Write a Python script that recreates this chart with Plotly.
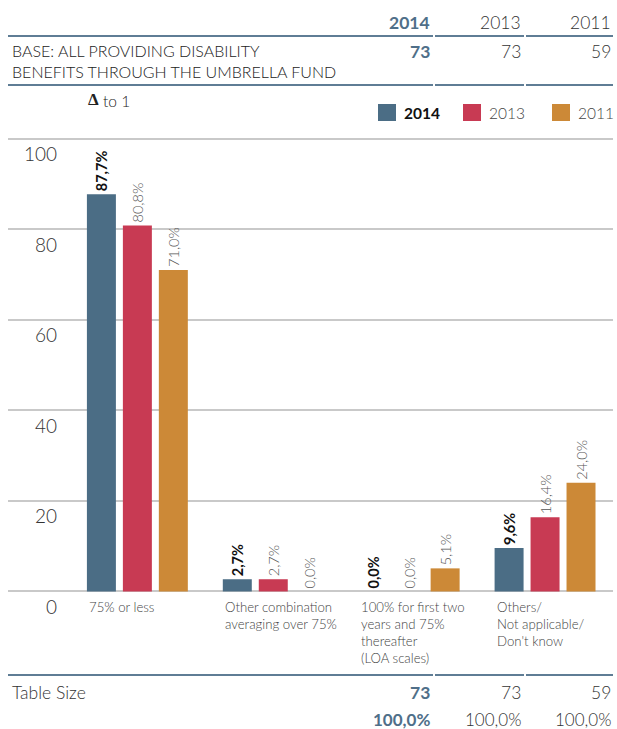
import plotly.graph_objects as go

# ---- data ----
categories = [
    "75% or less",
    "Other combination<br>averaging over 75%",
    "100% for first two<br>years and 75%<br>thereafter<br>(LOA scales)",
    "Others/<br>Not applicable/<br>Don't know",
]
years = ["2014", "2013", "2011"]
values_2014 = [87.7, 2.7, 0.0, 9.6]
values_2013 = [80.8, 2.7, 0.0, 16.4]
values_2011 = [71.0, 0.0, 5.1, 24.0]
base_sizes = [73, 73, 59]
table_sizes = [73, 73, 59]
table_totals = ["100,0%", "100,0%", "100,0%"]
y_ticks = [0, 20, 40, 60, 80, 100]

colors = ["#4b6d85", "#c83a53", "#cc8937"]
accent = "#4f6f89"
rule_color = "#5f7d95"
FONT = "Lato"

W, H = 617, 729
ML, MR, MT, MB = 8, 4, 134, 133
PW, PH = W - ML - MR, H - MT - MB


def px_x(x):
    return (x - ML) / PW


def px_y(y):
    return (H - MB - y) / PH


fig = go.Figure()
series = [values_2014, values_2013, values_2011]
for i, (yr, vals) in enumerate(zip(years, series)):
    bold = i == 0
    fig.add_trace(go.Bar(
        x=list(range(len(categories))), y=vals, name=yr,
        marker=dict(color=colors[i], line=dict(width=0)),
        texttemplate="%{y:.1f}%", textposition="outside", textangle=-90,
        constraintext="none", cliponaxis=False,
        textfont=dict(family=FONT, size=14.5,
                      color="#111" if bold else "#555",
                      weight=700 if bold else 300),
        showlegend=False, hoverinfo="skip",
    ))

ann = []
shapes = []

# y tick labels sit just under each gridline
for v in y_ticks:
    ann.append(dict(x=px_x(59), xref="paper", y=v, yref="y", text=str(v),
                    xanchor="right", yanchor="middle", yshift=-15, showarrow=False,
                    font=dict(family=FONT, size=19, color="#333", weight=300)))

# category labels under each group, left aligned with the first bar
for i, c in enumerate(categories):
    ann.append(dict(x=i - 0.371, xref="x", y=px_y(597), yref="paper", text=c,
                    xanchor="left", yanchor="top", align="left", showarrow=False,
                    font=dict(family=FONT, size=13.2, color="#444", weight=300)))

col_right = [432, 523, 613]

# header row
for i, yr in enumerate(years):
    ann.append(dict(x=px_x(col_right[i]), xref="paper", y=px_y(22), yref="paper",
                    text=yr, xanchor="right", yanchor="middle", showarrow=False,
                    font=dict(family=FONT, size=17.5,
                              color=accent if i == 0 else "#333",
                              weight=700 if i == 0 else 300)))

ann.append(dict(x=px_x(10), xref="paper", y=px_y(61), yref="paper",
                text="BASE: ALL PROVIDING DISABILITY<br>BENEFITS THROUGH THE UMBRELLA FUND",
                xanchor="left", yanchor="middle", align="left", showarrow=False,
                font=dict(family=FONT, size=16, color="#222", weight=300)))
for i, n in enumerate(base_sizes):
    ann.append(dict(x=px_x(col_right[i]), xref="paper", y=px_y(52), yref="paper",
                    text=str(n), xanchor="right", yanchor="middle", showarrow=False,
                    font=dict(family=FONT, size=17.5,
                              color=accent if i == 0 else "#333",
                              weight=700 if i == 0 else 300)))

# scale note
ann.append(dict(x=px_x(86), xref="paper", y=px_y(100), yref="paper", text="Δ",
                xanchor="left", yanchor="middle", showarrow=False,
                font=dict(family="Liberation Serif", size=17, color="#222", weight=700)))
ann.append(dict(x=px_x(101), xref="paper", y=px_y(101), yref="paper", text="to 1",
                xanchor="left", yanchor="middle", showarrow=False,
                font=dict(family=FONT, size=15.5, color="#222", weight=300)))

# legend
legend_sw = [378, 463, 552]
for i, yr in enumerate(years):
    shapes.append(dict(type="rect", xref="paper", yref="paper",
                       x0=px_x(legend_sw[i]), x1=px_x(legend_sw[i] + 18),
                       y0=px_y(121), y1=px_y(104),
                       fillcolor=colors[i], line=dict(width=0)))
    ann.append(dict(x=px_x(legend_sw[i] + 24), xref="paper", y=px_y(113), yref="paper",
                    text=yr, xanchor="left", yanchor="middle", showarrow=False,
                    font=dict(family=FONT, size=15.5,
                              color="#111" if i == 0 else "#444",
                              weight=700 if i == 0 else 300)))

# table footer
ann.append(dict(x=px_x(10), xref="paper", y=px_y(692), yref="paper", text="Table Size",
                xanchor="left", yanchor="middle", showarrow=False,
                font=dict(family=FONT, size=17.5, color="#333", weight=300)))
for i in range(3):
    ann.append(dict(x=px_x(col_right[i]), xref="paper", y=px_y(692), yref="paper",
                    text=str(table_sizes[i]), xanchor="right", yanchor="middle",
                    showarrow=False,
                    font=dict(family=FONT, size=17.5,
                              color=accent if i == 0 else "#333",
                              weight=700 if i == 0 else 300)))
    ann.append(dict(x=px_x(col_right[i]), xref="paper", y=px_y(719), yref="paper",
                    text=table_totals[i], xanchor="right", yanchor="middle",
                    showarrow=False,
                    font=dict(family=FONT, size=17,
                              color=accent if i == 0 else "#333",
                              weight=700 if i == 0 else 300)))

# horizontal rules, split at the column edges
segments = [(8, 433), (435, 524), (526, 613)]
for ry in (36, 85, 675):
    for a, b in segments:
        shapes.append(dict(type="line", xref="paper", yref="paper",
                           x0=px_x(a), x1=px_x(b), y0=px_y(ry), y1=px_y(ry),
                           line=dict(color=rule_color, width=2)))

fig.update_layout(
    width=W, height=H,
    margin=dict(l=ML, r=MR, t=MT, b=MB),
    paper_bgcolor="white", plot_bgcolor="white",
    separators=", ",
    barmode="group", bargap=0.206, bargroupgap=0.194,
    xaxis=dict(range=[-0.952, 3.5], showticklabels=False, showgrid=False,
               zeroline=False, showline=False, ticks=""),
    yaxis=dict(range=[-1, 101], tickvals=y_ticks, showticklabels=False,
               showgrid=True, gridcolor="#c9c9c9", gridwidth=1.5,
               zeroline=False, showline=False, ticks=""),
    annotations=ann, shapes=shapes,
    font=dict(family=FONT),
)

fig.write_html("out.html")
